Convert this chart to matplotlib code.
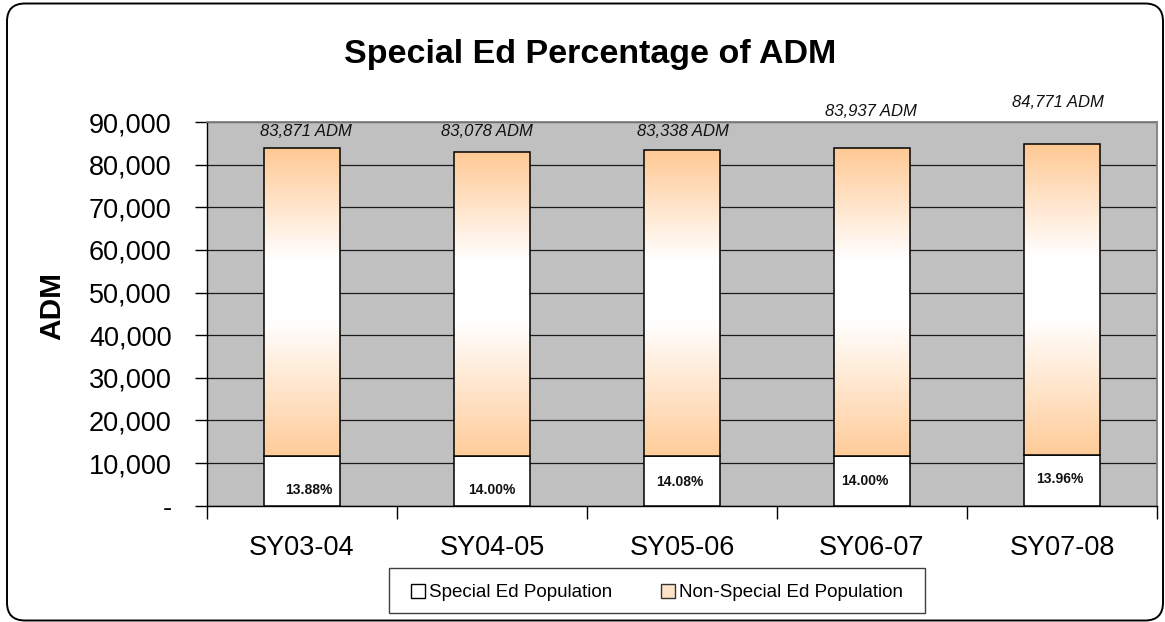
import matplotlib
matplotlib.use('Agg')
import matplotlib.pyplot as plt
import numpy as np
from matplotlib.colors import LinearSegmentedColormap
from matplotlib.patches import FancyBboxPatch, Rectangle, Patch
from matplotlib.ticker import FuncFormatter, MultipleLocator

plt.rcParams['font.family'] = ['Liberation Sans', 'DejaVu Sans']

# ---- data ----
years = ['SY03-04', 'SY04-05', 'SY05-06', 'SY06-07', 'SY07-08']
total_adm = [83871, 83078, 83338, 83937, 84771]
special_ed = [11641, 11631, 11734, 11751, 11834]
non_special = [72230, 71447, 71604, 72186, 72937]
special_pct = ['13.88%', '14.00%', '14.08%', '14.00%', '13.96%']
series_names = ['Special Ed Population', 'Non-Special Ed Population']

# label placement (pixel offsets, style only)
total_label_offsets = [(3.5, 16.4), (-5, 19.8), (1, 19.4), (-1, 36.2), (-4, 41.6)]
pct_label_offsets = [(6.5, 15.7), (-0.5, 15.7), (-2, 23.7), (-7, 24.7), (-2, 26.7)]

W, H = 1165, 622
fig = plt.figure(figsize=(W / 100, H / 100), dpi=100)
fig.patch.set_facecolor('white')

ax = fig.add_axes([207 / W, (H - 505.7) / H, 950 / W, 383.7 / H])
ax.set_facecolor('#C0C0C0')

x = np.arange(len(years))
bw = 0.4
b1 = ax.bar(x, special_ed, bw, color='white', edgecolor='black', lw=1.1, zorder=3)
b2 = ax.bar(x, non_special, bw, bottom=special_ed, facecolor='none',
            edgecolor='black', lw=1.1, zorder=4)

cmap = LinearSegmentedColormap.from_list(
    'grad', [(0, '#FFC994'), (0.36, '#FFFFFF'), (0.56, '#FFFFFF'), (1, '#FFCC99')])
grad = np.linspace(0, 1, 256).reshape(-1, 1)
for p in b2.patches:
    x0, y0 = p.get_xy()
    im = ax.imshow(grad, extent=[x0, x0 + p.get_width(), y0, y0 + p.get_height()],
                   origin='upper', aspect='auto', cmap=cmap, zorder=3.5,
                   interpolation='bilinear')
    im.set_clip_path(p)

ax.set_xlim(-0.5, len(years) - 0.5)
ax.set_ylim(0, 90000)

ax.yaxis.set_major_locator(MultipleLocator(10000))
ax.yaxis.set_major_formatter(FuncFormatter(lambda v, pos: '-' if v == 0 else f'{int(v):,}'))
ax.grid(axis='y', color='#1a1a1a', lw=0.9)
ax.set_axisbelow(True)

ax.set_xticks(x)
ax.set_xticklabels(years)
ax.set_xticks(np.arange(-0.5, len(years), 1), minor=True)
ax.tick_params(axis='x', which='major', length=0, pad=21, labelsize=19.5)
ax.tick_params(axis='x', which='minor', length=9, width=1, direction='out')
ax.tick_params(axis='y', length=9, width=1, direction='out', pad=16.5, labelsize=19.5)

for s in ['top', 'right']:
    ax.spines[s].set_color('#808080')
    ax.spines[s].set_linewidth(1.3)
for s in ['left', 'bottom']:
    ax.spines[s].set_color('black')
    ax.spines[s].set_linewidth(1.0)

for xi, tot, off in zip(x, total_adm, total_label_offsets):
    ax.annotate(f'{tot:,} ADM', xy=(xi, tot), xytext=off, textcoords='offset pixels',
                ha='center', va='center', style='italic', fontsize=12,
                color='#111111', annotation_clip=False, zorder=6)

for xi, pct, off in zip(x, special_pct, pct_label_offsets):
    ax.annotate(pct, xy=(xi, 0), xytext=off, textcoords='offset pixels',
                ha='center', va='center', fontweight='bold', fontsize=10,
                color='#111111', zorder=6)

fig.text(590 / W, 1 - 55 / H, 'Special Ed Percentage of ADM', fontsize=24.5,
         fontweight='bold', ha='center', va='center')
fig.text(52 / W, 1 - 306 / H, 'ADM', rotation=90, fontsize=21.5, fontweight='bold',
         ha='center', va='center')

handles = [Patch(facecolor='white', edgecolor='black', lw=1),
           Patch(facecolor='#FFE3C6', edgecolor='#333333', lw=1)]
fig.legend(handles, series_names, loc='center', bbox_to_anchor=(657 / W, 1 - 592.5 / H),
           ncol=2, frameon=False, fontsize=13.5, handlelength=0.75, handleheight=0.75,
           handletextpad=0.2, columnspacing=2.6)
fig.patches.append(Rectangle((389 / W, 1 - 613 / H), 536 / W, 45 / H,
                             transform=fig.transFigure, fill=False,
                             edgecolor='#404040', lw=1))

frame = FancyBboxPatch((0.07, 0.015), 11.56, 6.17,
                       boxstyle='round,pad=0,rounding_size=0.18',
                       transform=fig.dpi_scale_trans, fill=False,
                       edgecolor='black', lw=1.4)
fig.patches.append(frame)

fig.savefig('out.png', dpi=100)
